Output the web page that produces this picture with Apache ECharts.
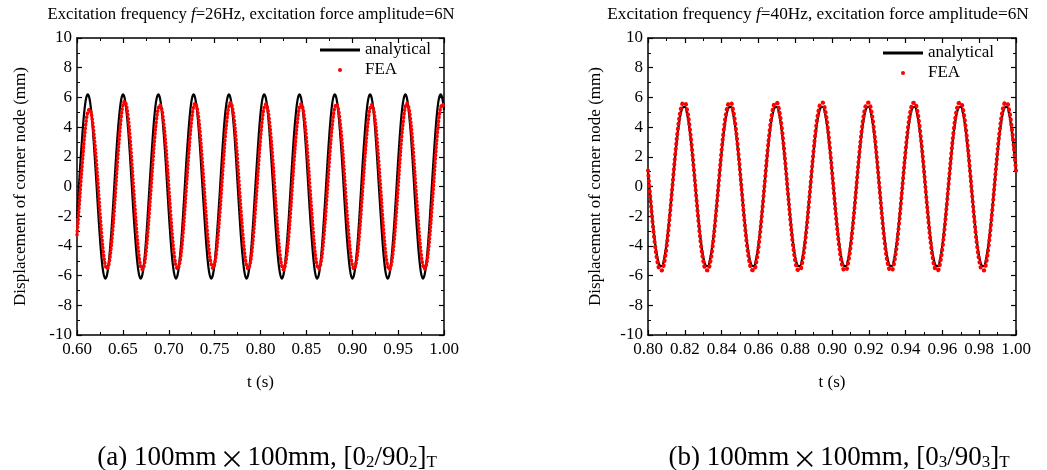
<!DOCTYPE html>
<html>
<head>
<meta charset="utf-8">
<script src="https://cdn.jsdelivr.net/npm/echarts@6/dist/echarts.min.js"></script>
<style>html,body{margin:0;padding:0;background:#fff;}#c{width:1047px;height:470px;}</style>
</head>
<body>
<div id="c"></div>
<script>
// ---- Panel (a): f = 26 Hz ----
const timeA = [
0.6000,0.6019,0.6038,0.6058,0.6077,0.6096,0.6115,0.6135,0.6154,0.6173,0.6192,0.6212,0.6231,0.6250,0.6269,0.6288,0.6308,0.6327,0.6346,0.6365,
0.6385,0.6404,0.6423,0.6442,0.6462,0.6481,0.6500,0.6519,0.6538,0.6558,0.6577,0.6596,0.6615,0.6635,0.6654,0.6673,0.6692,0.6712,0.6731,0.6750,
0.6769,0.6788,0.6808,0.6827,0.6846,0.6865,0.6885,0.6904,0.6923,0.6942,0.6962,0.6981,0.7000,0.7019,0.7038,0.7058,0.7077,0.7096,0.7115,0.7135,
0.7154,0.7173,0.7192,0.7212,0.7231,0.7250,0.7269,0.7288,0.7308,0.7327,0.7346,0.7365,0.7385,0.7404,0.7423,0.7442,0.7462,0.7481,0.7500,0.7519,
0.7538,0.7558,0.7577,0.7596,0.7615,0.7635,0.7654,0.7673,0.7692,0.7712,0.7731,0.7750,0.7769,0.7788,0.7808,0.7827,0.7846,0.7865,0.7885,0.7904,
0.7923,0.7942,0.7962,0.7981,0.8000,0.8019,0.8038,0.8058,0.8077,0.8096,0.8115,0.8135,0.8154,0.8173,0.8192,0.8212,0.8231,0.8250,0.8269,0.8288,
0.8308,0.8327,0.8346,0.8365,0.8385,0.8404,0.8423,0.8442,0.8462,0.8481,0.8500,0.8519,0.8538,0.8558,0.8577,0.8596,0.8615,0.8635,0.8654,0.8673,
0.8692,0.8712,0.8731,0.8750,0.8769,0.8788,0.8808,0.8827,0.8846,0.8865,0.8885,0.8904,0.8923,0.8942,0.8962,0.8981,0.9000,0.9019,0.9038,0.9058,
0.9077,0.9096,0.9115,0.9135,0.9154,0.9173,0.9192,0.9212,0.9231,0.9250,0.9269,0.9288,0.9308,0.9327,0.9346,0.9365,0.9385,0.9404,0.9423,0.9442,
0.9462,0.9481,0.9500,0.9519,0.9538,0.9558,0.9577,0.9596,0.9615,0.9635,0.9654,0.9673,0.9692,0.9712,0.9731,0.9750,0.9769,0.9788,0.9808,0.9827,
0.9846,0.9865,0.9885,0.9904,0.9923,0.9942,0.9962,0.9981,1.0000
];
const analyticalA = [
-2.12,-0.22,1.71,3.47,4.89,5.83,6.20,5.96,5.14,3.82,2.12,0.22,-1.71,-3.47,-4.89,-5.83,-6.20,-5.96,-5.14,-3.82,
-2.12,-0.22,1.71,3.47,4.89,5.83,6.20,5.96,5.14,3.82,2.12,0.22,-1.71,-3.47,-4.89,-5.83,-6.20,-5.96,-5.14,-3.82,
-2.12,-0.22,1.71,3.47,4.89,5.83,6.20,5.96,5.14,3.82,2.12,0.22,-1.71,-3.47,-4.89,-5.83,-6.20,-5.96,-5.14,-3.82,
-2.12,-0.22,1.71,3.47,4.89,5.83,6.20,5.96,5.14,3.82,2.12,0.22,-1.71,-3.47,-4.89,-5.83,-6.20,-5.96,-5.14,-3.82,
-2.12,-0.22,1.71,3.47,4.89,5.83,6.20,5.96,5.14,3.82,2.12,0.22,-1.71,-3.47,-4.89,-5.83,-6.20,-5.96,-5.14,-3.82,
-2.12,-0.22,1.71,3.47,4.89,5.83,6.20,5.96,5.14,3.82,2.12,0.22,-1.71,-3.47,-4.89,-5.83,-6.20,-5.96,-5.14,-3.82,
-2.12,-0.22,1.71,3.47,4.89,5.83,6.20,5.96,5.14,3.82,2.12,0.22,-1.71,-3.47,-4.89,-5.83,-6.20,-5.96,-5.14,-3.82,
-2.12,-0.22,1.71,3.47,4.89,5.83,6.20,5.96,5.14,3.82,2.12,0.22,-1.71,-3.47,-4.89,-5.83,-6.20,-5.96,-5.14,-3.82,
-2.12,-0.22,1.71,3.47,4.89,5.83,6.20,5.96,5.14,3.82,2.12,0.22,-1.71,-3.47,-4.89,-5.83,-6.20,-5.96,-5.14,-3.82,
-2.12,-0.22,1.71,3.47,4.89,5.83,6.20,5.96,5.14,3.82,2.12,0.22,-1.71,-3.47,-4.89,-5.83,-6.20,-5.96,-5.14,-3.82,
-2.12,-0.22,1.71,3.47,4.89,5.83,6.20,5.96,5.14
];
const feaA = [
-3.26,-1.71,0,1.61,3.06,4.21,4.95,5.20,4.95,4.21,3.06,1.61,0,-1.71,-3.26,-4.49,-5.28,-5.55,-5.28,-4.49,
-3.26,-1.71,0,1.78,3.38,4.65,5.47,5.75,5.47,4.65,3.38,1.78,0,-1.73,-3.29,-4.53,-5.33,-5.60,-5.33,-4.53,
-3.29,-1.73,0,1.70,3.23,4.45,5.23,5.50,5.23,4.45,3.23,1.70,0,-1.71,-3.26,-4.49,-5.28,-5.55,-5.28,-4.49,
-3.26,-1.71,0,1.73,3.29,4.53,5.33,5.60,5.33,4.53,3.29,1.73,0,-1.70,-3.23,-4.45,-5.23,-5.50,-5.23,-4.45,
-3.23,-1.70,0,1.75,3.32,4.57,5.37,5.65,5.37,4.57,3.32,1.75,0,-1.71,-3.26,-4.49,-5.28,-5.55,-5.28,-4.49,
-3.26,-1.71,0,1.71,3.26,4.49,5.28,5.55,5.28,4.49,3.26,1.71,0,-1.73,-3.29,-4.53,-5.33,-5.60,-5.33,-4.53,
-3.29,-1.73,0,1.71,3.26,4.49,5.28,5.55,5.28,4.49,3.26,1.71,0,-1.71,-3.26,-4.49,-5.28,-5.55,-5.28,-4.49,
-3.26,-1.71,0,1.71,3.26,4.49,5.28,5.55,5.28,4.49,3.26,1.71,0,-1.71,-3.26,-4.49,-5.28,-5.55,-5.28,-4.49,
-3.26,-1.71,0,1.70,3.23,4.45,5.23,5.50,5.23,4.45,3.23,1.70,0,-1.73,-3.29,-4.53,-5.33,-5.60,-5.33,-4.53,
-3.29,-1.73,0,1.73,3.29,4.53,5.33,5.60,5.33,4.53,3.29,1.73,0,-1.71,-3.26,-4.49,-5.28,-5.55,-5.28,-4.49,
-3.26,-1.71,0,1.71,3.26,4.49,5.28,5.55,5.28
];

// ---- Panel (b): f = 40 Hz ----
const timeB = [
0.8,0.80125,0.8025,0.80375,0.805,0.80625,0.8075,0.80875,0.81,0.81125,0.8125,0.81375,0.815,0.81625,0.8175,0.81875,0.82,0.82125,0.8225,0.82375,
0.825,0.82625,0.8275,0.82875,0.83,0.83125,0.8325,0.83375,0.835,0.83625,0.8375,0.83875,0.84,0.84125,0.8425,0.84375,0.845,0.84625,0.8475,0.84875,
0.85,0.85125,0.8525,0.85375,0.855,0.85625,0.8575,0.85875,0.86,0.86125,0.8625,0.86375,0.865,0.86625,0.8675,0.86875,0.87,0.87125,0.8725,0.87375,
0.875,0.87625,0.8775,0.87875,0.88,0.88125,0.8825,0.88375,0.885,0.88625,0.8875,0.88875,0.89,0.89125,0.8925,0.89375,0.895,0.89625,0.8975,0.89875,
0.9,0.90125,0.9025,0.90375,0.905,0.90625,0.9075,0.90875,0.91,0.91125,0.9125,0.91375,0.915,0.91625,0.9175,0.91875,0.92,0.92125,0.9225,0.92375,
0.925,0.92625,0.9275,0.92875,0.93,0.93125,0.9325,0.93375,0.935,0.93625,0.9375,0.93875,0.94,0.94125,0.9425,0.94375,0.945,0.94625,0.9475,0.94875,
0.95,0.95125,0.9525,0.95375,0.955,0.95625,0.9575,0.95875,0.96,0.96125,0.9625,0.96375,0.965,0.96625,0.9675,0.96875,0.97,0.97125,0.9725,0.97375,
0.975,0.97625,0.9775,0.97875,0.98,0.98125,0.9825,0.98375,0.985,0.98625,0.9875,0.98875,0.99,0.99125,0.9925,0.99375,0.995,0.99625,0.9975,0.99875,
1.0
];
const analyticalB = [
1.01,-0.68,-2.30,-3.70,-4.73,-5.30,-5.36,-4.89,-3.94,-2.60,-1.01,0.68,2.30,3.70,4.73,5.30,5.36,4.89,3.94,2.60,
1.01,-0.68,-2.30,-3.70,-4.73,-5.30,-5.36,-4.89,-3.94,-2.60,-1.01,0.68,2.30,3.70,4.73,5.30,5.36,4.89,3.94,2.60,
1.01,-0.68,-2.30,-3.70,-4.73,-5.30,-5.36,-4.89,-3.94,-2.60,-1.01,0.68,2.30,3.70,4.73,5.30,5.36,4.89,3.94,2.60,
1.01,-0.68,-2.30,-3.70,-4.73,-5.30,-5.36,-4.89,-3.94,-2.60,-1.01,0.68,2.30,3.70,4.73,5.30,5.36,4.89,3.94,2.60,
1.01,-0.68,-2.30,-3.70,-4.73,-5.30,-5.36,-4.89,-3.94,-2.60,-1.01,0.68,2.30,3.70,4.73,5.30,5.36,4.89,3.94,2.60,
1.01,-0.68,-2.30,-3.70,-4.73,-5.30,-5.36,-4.89,-3.94,-2.60,-1.01,0.68,2.30,3.70,4.73,5.30,5.36,4.89,3.94,2.60,
1.01,-0.68,-2.30,-3.70,-4.73,-5.30,-5.36,-4.89,-3.94,-2.60,-1.01,0.68,2.30,3.70,4.73,5.30,5.36,4.89,3.94,2.60,
1.01,-0.68,-2.30,-3.70,-4.73,-5.30,-5.36,-4.89,-3.94,-2.60,-1.01,0.68,2.30,3.70,4.73,5.30,5.36,4.89,3.94,2.60,
1.01
];
const feaB = [
1.07,-0.71,-2.43,-3.90,-4.99,-5.60,-5.65,-5.16,-4.16,-2.75,-1.07,0.71,2.43,3.90,4.99,5.60,5.65,5.16,4.16,2.75,
1.07,-0.71,-2.43,-3.90,-4.99,-5.60,-5.65,-5.16,-4.16,-2.75,-1.07,0.71,2.43,3.90,4.99,5.60,5.65,5.16,4.16,2.75,
1.07,-0.71,-2.43,-3.90,-4.99,-5.60,-5.65,-5.16,-4.16,-2.75,-1.07,0.71,2.43,3.90,4.99,5.60,5.65,5.16,4.16,2.75,
1.07,-0.71,-2.43,-3.90,-4.99,-5.60,-5.65,-5.16,-4.16,-2.75,-1.07,0.71,2.43,3.90,4.99,5.60,5.65,5.16,4.16,2.75,
1.07,-0.71,-2.43,-3.90,-4.99,-5.60,-5.65,-5.16,-4.16,-2.75,-1.07,0.71,2.43,3.90,4.99,5.60,5.65,5.16,4.16,2.75,
1.07,-0.71,-2.43,-3.90,-4.99,-5.60,-5.65,-5.16,-4.16,-2.75,-1.07,0.71,2.43,3.90,4.99,5.60,5.65,5.16,4.16,2.75,
1.07,-0.71,-2.43,-3.90,-4.99,-5.60,-5.65,-5.16,-4.16,-2.75,-1.07,0.71,2.43,3.90,4.99,5.60,5.65,5.16,4.16,2.75,
1.07,-0.71,-2.43,-3.90,-4.99,-5.60,-5.65,-5.16,-4.16,-2.75,-1.07,0.71,2.43,3.90,4.99,5.60,5.65,5.16,4.16,2.75,
1.07
];

const seriesNames = ['analytical', 'FEA'];
const xTitle = 't (s)';
const yTitle = 'Displacement of corner node (mm)';

const FONT = 'Liberation Serif';
const BLACK = '#000000';
const RED = '#ff0000';

function zip(t, v) { return t.map((x, i) => [x, v[i]]); }

function xAxisPair(grid, min, max, interval) {
  const base = {
    type: 'value', gridIndex: grid, min: min, max: max, interval: interval,
    splitLine: { show: false },
    axisLine: { onZero: false, lineStyle: { color: BLACK, width: 1.5 } },
    axisTick: { inside: true, length: 5, lineStyle: { color: BLACK, width: 1.2 } },
    minorTick: { show: true, splitNumber: 2, length: 3, lineStyle: { color: BLACK, width: 1 } }
  };
  return [
    Object.assign({}, base, {
      position: 'bottom',
      axisLabel: { formatter: v => v.toFixed(2), fontFamily: FONT, fontSize: 17, color: BLACK, margin: 6 },
      name: xTitle, nameLocation: 'middle', nameGap: 39,
      nameTextStyle: { fontFamily: FONT, fontSize: 17, color: BLACK }
    }),
    Object.assign({}, base, { position: 'top', axisLabel: { show: false } })
  ];
}
function yAxisPair(grid, nameGap) {
  const base = {
    type: 'value', gridIndex: grid, min: -10, max: 10, interval: 2,
    splitLine: { show: false },
    axisLine: { onZero: false, lineStyle: { color: BLACK, width: 1.5 } },
    axisTick: { inside: true, length: 5, lineStyle: { color: BLACK, width: 1.2 } },
    minorTick: { show: true, splitNumber: 2, length: 3, lineStyle: { color: BLACK, width: 1 } }
  };
  return [
    Object.assign({}, base, {
      position: 'left',
      axisLabel: { fontFamily: FONT, fontSize: 17, color: BLACK, margin: 5 },
      name: yTitle, nameLocation: 'middle', nameGap: nameGap,
      nameTextStyle: { fontFamily: FONT, fontSize: 17, color: BLACK }
    }),
    Object.assign({}, base, { position: 'right', axisLabel: { show: false } })
  ];
}

function legendFor(left, top) {
  return {
    left: left, top: top, orient: 'vertical', padding: 0, itemGap: 2,
    itemWidth: 40, itemHeight: 4, selectedMode: false,
    itemStyle: { borderWidth: 0 },
    textStyle: { fontFamily: FONT, fontSize: 17, color: BLACK, lineHeight: 18 },
    data: [
      { name: seriesNames[0], icon: 'path://M0,0H40V3H0Z' },
      { name: seriesNames[1], icon: 'circle' }
    ]
  };
}

function lineSeries(xi, yi, t, v) {
  return {
    name: seriesNames[0], type: 'line', xAxisIndex: xi, yAxisIndex: yi,
    data: zip(t, v), symbol: 'none', smooth: 0.35,
    lineStyle: { color: BLACK, width: 2.2 }, itemStyle: { color: BLACK },
    animation: false, z: 2
  };
}
function feaSeries(xi, yi, t, v, width, gap) {
  return {
    name: seriesNames[1], type: 'line', xAxisIndex: xi, yAxisIndex: yi,
    data: zip(t, v), symbol: 'none', smooth: 0.35,
    lineStyle: { color: RED, width: width, type: [0.5, gap], cap: 'round' },
    itemStyle: { color: RED }, animation: false, z: 3
  };
}

function titleText(x, y, freq, size) {
  return {
    type: 'text', x: x, y: y,
    style: {
      text: '{r|Excitation frequency }{i|f}{r|=' + freq + 'Hz, excitation force amplitude=6N}',
      align: 'center', verticalAlign: 'middle',
      rich: {
        r: { fontFamily: FONT, fontSize: size, fill: BLACK, color: BLACK },
        i: { fontFamily: FONT, fontSize: size, fontStyle: 'italic', fill: BLACK, color: BLACK }
      }
    }
  };
}
function captionText(x, y, label, n) {
  return {
    type: 'text', x: x, y: y,
    style: {
      text: '{n|' + label + ' 100mm}{m|×}{n|100mm, [0}{s|' + n + '}{n|/90}{s|' + n + '}{n|]}{s|T}',
      align: 'center', verticalAlign: 'middle',
      rich: {
        n: { fontFamily: FONT, fontSize: 27, lineHeight: 31, verticalAlign: 'bottom', color: BLACK, fill: BLACK },
        m: { fontFamily: 'Noto Sans CJK SC', fontSize: 25, lineHeight: 31, verticalAlign: 'bottom', color: BLACK, fill: BLACK, padding: [0, 3, 0, 3] },
        s: { fontFamily: FONT, fontSize: 17, lineHeight: 12, verticalAlign: 'bottom', color: BLACK, fill: BLACK }
      }
    }
  };
}

const chart = echarts.init(document.getElementById('c'), null, { renderer: 'canvas' });
const xa = xAxisPair(0, 0.6, 1.0, 0.05);
const xb = xAxisPair(1, 0.8, 1.0, 0.02);
const ya = yAxisPair(0, 48);
const yb = yAxisPair(1, 44);
chart.setOption({
  backgroundColor: '#ffffff',
  animation: false,
  grid: [
    { left: 77, top: 38, width: 367, height: 297 },
    { left: 648, top: 38, width: 368, height: 297 }
  ],
  xAxis: [xa[0], xa[1], xb[0], xb[1]],
  yAxis: [ya[0], ya[1], yb[0], yb[1]],
  legend: [legendFor(320, 41), legendFor(883, 44)],
  series: [
    lineSeries(0, 0, timeA, analyticalA),
    feaSeries(0, 0, timeA, feaA, 3.5, 3.3),
    lineSeries(2, 2, timeB, analyticalB),
    feaSeries(2, 2, timeB, feaB, 4, 4.6)
  ],
  graphic: [
    titleText(251, 15, '26', 16.7),
    titleText(818, 14, '40', 17.3),
    captionText(267, 456, '(a)', '2'),
    captionText(839, 456, '(b)', '3')
  ]
});
</script>
</body>
</html>
